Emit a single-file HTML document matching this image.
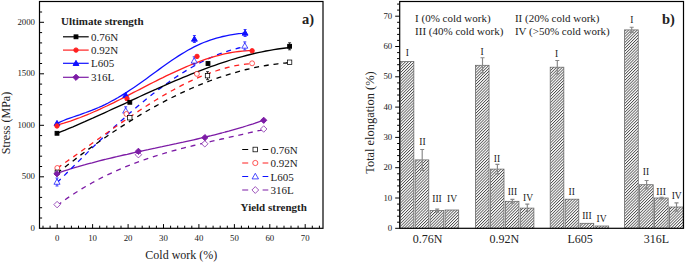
<!DOCTYPE html>
<html><head><meta charset="utf-8"><style>
html,body{margin:0;padding:0;background:#fff;}
svg{display:block;}
text{font-family:"Liberation Serif",serif;fill:#222;}
.tk{font-size:8.8px;}
.ax{font-size:12px;}
.lg{font-size:11px;}
.rn{font-size:9.5px;}
.bd{font-size:11px;font-weight:bold;}
.ab{font-size:14.5px;font-weight:bold;}
</style></head><body>
<svg width="685" height="263" viewBox="0 0 685 263">
<rect x="39.5" y="1.5" width="283.5" height="226.8" fill="none" stroke="#000" stroke-width="1.2"/>
<path d="M43.0,228.3V225.7M50.1,228.3V225.7M57.2,228.3V224.1M64.3,228.3V225.7M71.4,228.3V225.7M78.5,228.3V225.7M85.5,228.3V225.7M92.6,228.3V224.1M99.7,228.3V225.7M106.8,228.3V225.7M113.9,228.3V225.7M121.0,228.3V225.7M128.1,228.3V224.1M135.1,228.3V225.7M142.2,228.3V225.7M149.3,228.3V225.7M156.4,228.3V225.7M163.5,228.3V224.1M170.6,228.3V225.7M177.7,228.3V225.7M184.7,228.3V225.7M191.8,228.3V225.7M198.9,228.3V224.1M206.0,228.3V225.7M213.1,228.3V225.7M220.2,228.3V225.7M227.3,228.3V225.7M234.4,228.3V224.1M241.4,228.3V225.7M248.5,228.3V225.7M255.6,228.3V225.7M262.7,228.3V225.7M269.8,228.3V224.1M276.9,228.3V225.7M284.0,228.3V225.7M291.0,228.3V225.7M298.1,228.3V225.7M305.2,228.3V224.1M312.3,228.3V225.7M319.4,228.3V225.7M39.5,218.0H42.1M39.5,207.7H42.1M39.5,197.4H42.1M39.5,187.1H42.1M39.5,176.8H44.0M39.5,166.5H42.1M39.5,156.2H42.1M39.5,145.9H42.1M39.5,135.6H42.1M39.5,125.3H44.0M39.5,115.0H42.1M39.5,104.7H42.1M39.5,94.4H42.1M39.5,84.1H42.1M39.5,73.8H44.0M39.5,63.5H42.1M39.5,53.2H42.1M39.5,42.9H42.1M39.5,32.6H42.1M39.5,22.3H44.0M39.5,12.0H42.1" stroke="#000" stroke-width="1" fill="none"/>
<text x="57.2" y="240.6" class="tk" text-anchor="middle">0</text>
<text x="92.6" y="240.6" class="tk" text-anchor="middle">10</text>
<text x="128.1" y="240.6" class="tk" text-anchor="middle">20</text>
<text x="163.5" y="240.6" class="tk" text-anchor="middle">30</text>
<text x="198.9" y="240.6" class="tk" text-anchor="middle">40</text>
<text x="234.4" y="240.6" class="tk" text-anchor="middle">50</text>
<text x="269.8" y="240.6" class="tk" text-anchor="middle">60</text>
<text x="305.2" y="240.6" class="tk" text-anchor="middle">70</text>
<text x="35" y="230.9" class="tk" text-anchor="end">0</text>
<text x="35" y="179.4" class="tk" text-anchor="end">500</text>
<text x="35" y="127.9" class="tk" text-anchor="end">1000</text>
<text x="35" y="76.4" class="tk" text-anchor="end">1500</text>
<text x="35" y="24.9" class="tk" text-anchor="end">2000</text>
<text class="ax" x="181.3" y="259" text-anchor="middle">Cold work (%)</text>
<text class="ax" transform="translate(10,123) rotate(-90)" text-anchor="middle">Stress (MPa)</text>
<text class="ab" x="302" y="24">a)</text>
<path d="M57.2,205.5 L60.7,202.9 L64.2,200.4 L67.7,197.9 L71.2,195.6 L74.7,193.3 L78.2,191.1 L81.7,188.9 L85.2,186.8 L88.7,184.8 L92.2,182.8 L95.7,180.9 L99.2,179.0 L102.7,177.2 L106.2,175.5 L109.7,173.8 L113.2,172.2 L116.7,170.6 L120.2,169.1 L123.7,167.6 L127.2,166.1 L130.7,164.8 L134.2,163.4 L137.7,162.1 L141.2,160.8 L144.7,159.6 L148.2,158.4 L151.7,157.2 L155.2,156.1 L158.7,155.0 L162.2,154.0 L165.7,152.9 L169.2,151.9 L172.7,150.9 L176.2,150.0 L179.7,149.0 L183.2,148.1 L186.7,147.2 L190.2,146.4 L193.7,145.5 L197.2,144.7 L200.7,143.8 L204.2,143.0 L207.7,142.2 L211.2,141.4 L214.7,140.6 L218.2,139.8 L221.7,139.0 L225.2,138.3 L228.7,137.5 L232.2,136.7 L235.7,135.9 L239.2,135.1 L242.7,134.3 L246.2,133.5 L249.7,132.7 L253.2,131.9 L256.7,131.1 L260.2,130.3 L263.7,129.4" stroke="#7d1ca6" stroke-width="1.3" fill="none" stroke-linejoin="round" stroke-dasharray="5,4.8"/>
<path d="M57.2,173.2 L60.7,172.1 L64.2,170.9 L67.7,169.8 L71.2,168.7 L74.7,167.7 L78.2,166.7 L81.7,165.6 L85.2,164.7 L88.7,163.7 L92.2,162.8 L95.7,161.8 L99.2,160.9 L102.7,160.0 L106.2,159.2 L109.7,158.3 L113.2,157.5 L116.7,156.7 L120.2,155.8 L123.7,155.0 L127.2,154.3 L130.7,153.5 L134.2,152.7 L137.7,151.9 L141.2,151.2 L144.7,150.4 L148.2,149.7 L151.7,148.9 L155.2,148.2 L158.7,147.4 L162.2,146.7 L165.7,145.9 L169.2,145.2 L172.7,144.4 L176.2,143.7 L179.7,142.9 L183.2,142.2 L186.7,141.4 L190.2,140.6 L193.7,139.8 L197.2,139.0 L200.7,138.2 L204.2,137.4 L207.7,136.5 L211.2,135.7 L214.7,134.8 L218.2,133.9 L221.7,133.0 L225.2,132.0 L228.7,131.1 L232.2,130.1 L235.7,129.1 L239.2,128.1 L242.7,127.1 L246.2,126.0 L249.7,124.9 L253.2,123.8 L256.7,122.6 L260.2,121.4 L263.7,120.2" stroke="#7d1ca6" stroke-width="1.3" fill="none" stroke-linejoin="round"/>
<path d="M57.2,182.5 L60.4,179.3 L63.6,176.2 L66.8,173.0 L69.9,169.8 L73.1,166.7 L76.3,163.5 L79.5,160.4 L82.7,157.2 L85.9,154.1 L89.0,151.0 L92.2,147.9 L95.4,144.8 L98.6,141.8 L101.8,138.7 L105.0,135.7 L108.2,132.7 L111.3,129.8 L114.5,126.8 L117.7,123.9 L120.9,121.0 L124.1,118.2 L127.3,115.3 L130.4,112.5 L133.6,109.8 L136.8,107.1 L140.0,104.4 L143.2,101.7 L146.4,99.1 L149.6,96.6 L152.7,94.0 L155.9,91.6 L159.1,89.1 L162.3,86.8 L165.5,84.4 L168.7,82.2 L171.9,79.9 L175.0,77.8 L178.2,75.6 L181.4,73.6 L184.6,71.6 L187.8,69.6 L191.0,67.8 L194.1,66.0 L197.3,64.2 L200.5,62.5 L203.7,60.9 L206.9,59.4 L210.1,57.9 L213.3,56.5 L216.4,55.1 L219.6,53.9 L222.8,52.7 L226.0,51.6 L229.2,50.6 L232.4,49.6 L235.5,48.8 L238.7,48.0 L241.9,47.3 L245.1,46.7" stroke="#1010ff" stroke-width="1.3" fill="none" stroke-linejoin="round" stroke-dasharray="5,4.8"/>
<path d="M57.2,123.3 L60.4,121.8 L63.6,120.5 L66.8,119.2 L69.9,118.1 L73.1,117.0 L76.3,115.9 L79.5,114.8 L82.7,113.6 L85.9,112.5 L89.0,111.3 L92.2,110.1 L95.4,108.8 L98.6,107.5 L101.8,106.1 L105.0,104.6 L108.2,103.0 L111.3,101.3 L114.5,99.6 L117.7,97.8 L120.9,95.9 L124.1,93.9 L127.3,91.9 L130.4,89.8 L133.6,87.7 L136.8,85.5 L140.0,83.2 L143.2,81.0 L146.4,78.7 L149.6,76.3 L152.7,74.0 L155.9,71.7 L159.1,69.4 L162.3,67.0 L165.5,64.8 L168.7,62.5 L171.9,60.3 L175.0,58.2 L178.2,56.1 L181.4,54.1 L184.6,52.2 L187.8,50.3 L191.0,48.6 L194.1,46.9 L197.3,45.3 L200.5,43.9 L203.7,42.5 L206.9,41.3 L210.1,40.1 L213.3,39.1 L216.4,38.1 L219.6,37.3 L222.8,36.5 L226.0,35.8 L229.2,35.2 L232.4,34.7 L235.5,34.2 L238.7,33.7 L241.9,33.3 L245.1,32.8" stroke="#1010ff" stroke-width="1.3" fill="none" stroke-linejoin="round"/>
<path d="M57.2,168.1 L60.5,165.9 L63.8,163.6 L67.1,161.2 L70.4,158.9 L73.7,156.6 L77.0,154.2 L80.3,151.9 L83.6,149.5 L86.9,147.2 L90.2,144.8 L93.5,142.4 L96.8,140.1 L100.1,137.7 L103.4,135.4 L106.8,133.0 L110.1,130.7 L113.4,128.3 L116.7,126.0 L120.0,123.7 L123.3,121.4 L126.6,119.2 L129.9,116.9 L133.2,114.7 L136.5,112.5 L139.8,110.3 L143.1,108.1 L146.4,106.0 L149.7,103.9 L153.0,101.8 L156.3,99.8 L159.6,97.8 L162.9,95.8 L166.2,93.9 L169.5,92.0 L172.8,90.2 L176.1,88.4 L179.4,86.6 L182.7,84.9 L186.0,83.3 L189.3,81.7 L192.6,80.1 L195.9,78.7 L199.2,77.2 L202.5,75.8 L205.9,74.5 L209.2,73.3 L212.5,72.1 L215.8,71.0 L219.1,69.9 L222.4,68.9 L225.7,68.0 L229.0,67.2 L232.3,66.4 L235.6,65.7 L238.9,65.1 L242.2,64.6 L245.5,64.2 L248.8,63.8 L252.1,63.5" stroke="#ff2020" stroke-width="1.3" fill="none" stroke-linejoin="round" stroke-dasharray="5,4.8"/>
<path d="M57.2,125.0 L60.5,124.1 L63.8,123.2 L67.1,122.1 L70.4,121.1 L73.7,119.9 L77.0,118.7 L80.3,117.5 L83.6,116.2 L86.9,114.8 L90.2,113.5 L93.5,112.0 L96.8,110.6 L100.1,109.1 L103.4,107.5 L106.8,106.0 L110.1,104.4 L113.4,102.8 L116.7,101.1 L120.0,99.5 L123.3,97.8 L126.6,96.1 L129.9,94.4 L133.2,92.7 L136.5,91.0 L139.8,89.3 L143.1,87.6 L146.4,85.9 L149.7,84.2 L153.0,82.5 L156.3,80.9 L159.6,79.2 L162.9,77.6 L166.2,75.9 L169.5,74.4 L172.8,72.8 L176.1,71.3 L179.4,69.8 L182.7,68.3 L186.0,66.9 L189.3,65.5 L192.6,64.1 L195.9,62.8 L199.2,61.6 L202.5,60.4 L205.9,59.2 L209.2,58.1 L212.5,57.1 L215.8,56.2 L219.1,55.3 L222.4,54.4 L225.7,53.7 L229.0,53.0 L232.3,52.4 L235.6,51.9 L238.9,51.5 L242.2,51.1 L245.5,50.8 L248.8,50.7 L252.1,50.6" stroke="#ff2020" stroke-width="1.3" fill="none" stroke-linejoin="round"/>
<path d="M57.2,173.2 L61.1,170.0 L65.1,166.9 L69.0,163.9 L73.0,160.9 L76.9,157.9 L80.8,154.9 L84.8,152.0 L88.7,149.1 L92.7,146.3 L96.6,143.5 L100.5,140.7 L104.5,138.0 L108.4,135.3 L112.3,132.6 L116.3,130.0 L120.2,127.4 L124.2,124.9 L128.1,122.4 L132.0,119.9 L136.0,117.5 L139.9,115.1 L143.9,112.8 L147.8,110.5 L151.7,108.3 L155.7,106.1 L159.6,104.0 L163.6,101.9 L167.5,99.8 L171.4,97.8 L175.4,95.9 L179.3,93.9 L183.2,92.1 L187.2,90.3 L191.1,88.5 L195.1,86.8 L199.0,85.2 L202.9,83.6 L206.9,82.0 L210.8,80.5 L214.8,79.1 L218.7,77.7 L222.6,76.4 L226.6,75.1 L230.5,73.9 L234.5,72.7 L238.4,71.6 L242.3,70.5 L246.3,69.5 L250.2,68.6 L254.1,67.7 L258.1,66.9 L262.0,66.2 L266.0,65.5 L269.9,64.8 L273.8,64.3 L277.8,63.8 L281.7,63.3 L285.7,63.0 L289.6,62.6" stroke="#000" stroke-width="1.3" fill="none" stroke-linejoin="round" stroke-dasharray="5,4.8"/>
<path d="M57.2,133.3 L61.1,131.7 L65.1,130.1 L69.0,128.4 L73.0,126.8 L76.9,125.1 L80.8,123.4 L84.8,121.7 L88.7,119.9 L92.7,118.2 L96.6,116.4 L100.5,114.6 L104.5,112.8 L108.4,111.0 L112.3,109.2 L116.3,107.4 L120.2,105.6 L124.2,103.8 L128.1,102.0 L132.0,100.1 L136.0,98.3 L139.9,96.5 L143.9,94.7 L147.8,92.9 L151.7,91.1 L155.7,89.4 L159.6,87.6 L163.6,85.9 L167.5,84.1 L171.4,82.4 L175.4,80.7 L179.3,79.1 L183.2,77.4 L187.2,75.8 L191.1,74.2 L195.1,72.6 L199.0,71.1 L202.9,69.6 L206.9,68.1 L210.8,66.7 L214.8,65.3 L218.7,63.9 L222.6,62.6 L226.6,61.3 L230.5,60.0 L234.5,58.8 L238.4,57.7 L242.3,56.6 L246.3,55.5 L250.2,54.5 L254.1,53.5 L258.1,52.6 L262.0,51.8 L266.0,51.0 L269.9,50.3 L273.8,49.6 L277.8,49.0 L281.7,48.5 L285.7,48.0 L289.6,47.6" stroke="#000" stroke-width="1.3" fill="none" stroke-linejoin="round"/>
<path d="M57.10,201.37L60.33,204.60L57.10,207.83L53.87,204.60Z" fill="#fff" stroke="#7d1ca6" stroke-width="0.75"/>
<path d="M138.40,151.47L141.63,154.70L138.40,157.93L135.17,154.70Z" fill="#fff" stroke="#7d1ca6" stroke-width="0.75"/>
<path d="M204.80,140.57L208.03,143.80L204.80,147.03L201.57,143.80Z" fill="#fff" stroke="#7d1ca6" stroke-width="0.75"/>
<path d="M263.70,125.77L266.93,129.00L263.70,132.23L260.47,129.00Z" fill="#fff" stroke="#7d1ca6" stroke-width="0.75"/>
<path d="M55.5,178.0H58.5M57.0,178.0V186.0M55.5,186.0H58.5" stroke="#1010ff" stroke-width="0.8"/>
<path d="M57.00,178.96L60.04,184.28L53.96,184.28Z" fill="#fff" stroke="#1010ff" stroke-width="0.75"/>
<path d="M124.2,106.8H127.2M125.7,106.8V114.8M124.2,114.8H127.2" stroke="#1010ff" stroke-width="0.8"/>
<path d="M125.70,107.76L128.74,113.08L122.66,113.08Z" fill="#fff" stroke="#1010ff" stroke-width="0.75"/>
<path d="M192.7,56.8H195.7M194.2,56.8V64.8M192.7,64.8H195.7" stroke="#1010ff" stroke-width="0.8"/>
<path d="M194.20,57.76L197.24,63.08L191.16,63.08Z" fill="#fff" stroke="#1010ff" stroke-width="0.75"/>
<path d="M243.3,41.9H246.3M244.8,41.9V49.9M243.3,49.9H246.3" stroke="#1010ff" stroke-width="0.8"/>
<path d="M244.80,42.86L247.84,48.18L241.76,48.18Z" fill="#fff" stroke="#1010ff" stroke-width="0.75"/>
<circle cx="57.30" cy="168.00" r="2.47" fill="#fff" stroke="#ff2020" stroke-width="0.75"/>
<circle cx="126.40" cy="114.00" r="2.47" fill="#fff" stroke="#ff2020" stroke-width="0.75"/>
<circle cx="196.90" cy="73.90" r="2.47" fill="#fff" stroke="#ff2020" stroke-width="0.75"/>
<circle cx="252.10" cy="63.30" r="2.47" fill="#fff" stroke="#ff2020" stroke-width="0.75"/>
<rect x="55.11" y="170.12" width="4.37" height="4.37" fill="#fff" stroke="#000" stroke-width="0.75"/>
<rect x="127.62" y="115.61" width="4.37" height="4.37" fill="#fff" stroke="#000" stroke-width="0.75"/>
<path d="M206.0,71.7H209.0M207.5,71.7V79.7M206.0,79.7H209.0" stroke="#000" stroke-width="0.8"/>
<rect x="205.31" y="73.52" width="4.37" height="4.37" fill="#fff" stroke="#000" stroke-width="0.75"/>
<rect x="287.42" y="60.02" width="4.37" height="4.37" fill="#fff" stroke="#000" stroke-width="0.75"/>
<path d="M57.00,170.70L60.10,173.80L57.00,176.90L53.90,173.80Z" fill="#7d1ca6" stroke="#7d1ca6" stroke-width="1"/>
<path d="M138.40,148.20L141.50,151.30L138.40,154.40L135.30,151.30Z" fill="#7d1ca6" stroke="#7d1ca6" stroke-width="1"/>
<path d="M204.90,134.50L208.00,137.60L204.90,140.70L201.80,137.60Z" fill="#7d1ca6" stroke="#7d1ca6" stroke-width="1"/>
<path d="M263.70,117.20L266.80,120.30L263.70,123.40L260.60,120.30Z" fill="#7d1ca6" stroke="#7d1ca6" stroke-width="1"/>
<path d="M57.00,120.40L59.90,125.47L54.10,125.47Z" fill="#1010ff" stroke="#1010ff" stroke-width="1"/>
<path d="M125.70,92.30L128.60,97.38L122.80,97.38Z" fill="#1010ff" stroke="#1010ff" stroke-width="1"/>
<path d="M192.9,35.5H195.9M194.4,35.5V42.5M192.9,42.5H195.9" stroke="#1010ff" stroke-width="0.8"/>
<path d="M194.40,36.10L197.30,41.17L191.50,41.17Z" fill="#1010ff" stroke="#1010ff" stroke-width="1"/>
<path d="M243.6,29.5H246.6M245.1,29.5V36.5M243.6,36.5H246.6" stroke="#1010ff" stroke-width="0.8"/>
<path d="M245.10,30.10L248.00,35.17L242.20,35.17Z" fill="#1010ff" stroke="#1010ff" stroke-width="1"/>
<circle cx="57.00" cy="126.00" r="2.20" fill="#ff2020" stroke="#ff2020" stroke-width="1"/>
<circle cx="127.00" cy="98.70" r="2.20" fill="#ff2020" stroke="#ff2020" stroke-width="1"/>
<circle cx="197.00" cy="56.40" r="2.20" fill="#ff2020" stroke="#ff2020" stroke-width="1"/>
<circle cx="252.10" cy="50.80" r="2.20" fill="#ff2020" stroke="#ff2020" stroke-width="1"/>
<rect x="55.10" y="131.40" width="3.80" height="3.80" fill="#000" stroke="#000" stroke-width="1"/>
<rect x="127.90" y="100.40" width="3.80" height="3.80" fill="#000" stroke="#000" stroke-width="1"/>
<rect x="206.10" y="61.60" width="3.80" height="3.80" fill="#000" stroke="#000" stroke-width="1"/>
<path d="M288.1,42.8H291.1M289.6,42.8V49.8M288.1,49.8H291.1" stroke="#000" stroke-width="0.8"/>
<rect x="287.70" y="44.40" width="3.80" height="3.80" fill="#000" stroke="#000" stroke-width="1"/>
<text class="bd" x="61" y="25">Ultimate strength</text>
<path d="M63,36.8H88.7" stroke="#000" stroke-width="1.2"/>
<rect x="74.10" y="34.90" width="3.80" height="3.80" fill="#000" stroke="#000" stroke-width="1"/>
<text class="lg" x="91" y="40.8">0.76N</text>
<path d="M63,50.1H88.7" stroke="#ff2020" stroke-width="1.2"/>
<circle cx="76.00" cy="50.10" r="2.20" fill="#ff2020" stroke="#ff2020" stroke-width="1"/>
<text class="lg" x="91" y="54.1">0.92N</text>
<path d="M63,63.3H88.7" stroke="#1010ff" stroke-width="1.2"/>
<path d="M76.00,60.40L78.90,65.47L73.10,65.47Z" fill="#1010ff" stroke="#1010ff" stroke-width="1"/>
<text class="lg" x="91" y="67.3">L605</text>
<path d="M63,77.3H88.7" stroke="#7d1ca6" stroke-width="1.2"/>
<path d="M76.00,74.20L79.10,77.30L76.00,80.40L72.90,77.30Z" fill="#7d1ca6" stroke="#7d1ca6" stroke-width="1"/>
<text class="lg" x="91" y="81.3">316L</text>
<path d="M242.2,149.5H248.2M262.6,149.5H268.3" stroke="#000" stroke-width="1.1"/>
<rect x="253.00" y="147.20" width="4.60" height="4.60" fill="#fff" stroke="#000" stroke-width="0.75"/>
<text class="lg" x="270.5" y="153.5">0.76N</text>
<path d="M242.2,163.0H248.2M262.6,163.0H268.3" stroke="#ff2020" stroke-width="1.1"/>
<circle cx="255.30" cy="163.00" r="2.60" fill="#fff" stroke="#ff2020" stroke-width="0.75"/>
<text class="lg" x="270.5" y="167.0">0.92N</text>
<path d="M242.2,176.5H248.2M262.6,176.5H268.3" stroke="#1010ff" stroke-width="1.1"/>
<path d="M255.30,173.30L258.50,178.90L252.10,178.90Z" fill="#fff" stroke="#1010ff" stroke-width="0.75"/>
<text class="lg" x="270.5" y="180.5">L605</text>
<path d="M242.2,190.0H248.2M262.6,190.0H268.3" stroke="#7d1ca6" stroke-width="1.1"/>
<path d="M255.30,186.60L258.70,190.00L255.30,193.40L251.90,190.00Z" fill="#fff" stroke="#7d1ca6" stroke-width="0.75"/>
<text class="lg" x="270.5" y="194.0">316L</text>
<text class="bd" x="240.6" y="211">Yield strength</text>
<defs><pattern id="h" patternUnits="userSpaceOnUse" width="2.05" height="4" patternTransform="rotate(45)"><rect width="2.05" height="4" fill="#fff"/><rect width="0.8" height="4" fill="#4a4a4a"/></pattern></defs>
<rect x="400.20" y="61.5" width="13.65" height="166.8" fill="url(#h)" stroke="#666" stroke-width="0.75"/>
<rect x="415.15" y="159.9" width="13.65" height="68.4" fill="url(#h)" stroke="#666" stroke-width="0.75"/>
<rect x="430.10" y="210.6" width="13.65" height="17.7" fill="url(#h)" stroke="#666" stroke-width="0.75"/>
<rect x="445.05" y="210.0" width="13.65" height="18.3" fill="url(#h)" stroke="#666" stroke-width="0.75"/>
<rect x="475.40" y="65.3" width="13.65" height="163.0" fill="url(#h)" stroke="#666" stroke-width="0.75"/>
<rect x="490.35" y="169.1" width="13.65" height="59.2" fill="url(#h)" stroke="#666" stroke-width="0.75"/>
<rect x="505.30" y="201.3" width="13.65" height="27.0" fill="url(#h)" stroke="#666" stroke-width="0.75"/>
<rect x="520.25" y="208.1" width="13.65" height="20.2" fill="url(#h)" stroke="#666" stroke-width="0.75"/>
<rect x="550.20" y="67.2" width="13.65" height="161.1" fill="url(#h)" stroke="#666" stroke-width="0.75"/>
<rect x="565.15" y="199.2" width="13.65" height="29.1" fill="url(#h)" stroke="#666" stroke-width="0.75"/>
<rect x="580.10" y="223.3" width="13.65" height="5.0" fill="url(#h)" stroke="#666" stroke-width="0.75"/>
<rect x="595.05" y="226.0" width="13.65" height="2.3" fill="url(#h)" stroke="#666" stroke-width="0.75"/>
<rect x="624.60" y="29.9" width="13.65" height="198.4" fill="url(#h)" stroke="#666" stroke-width="0.75"/>
<rect x="639.55" y="184.7" width="13.65" height="43.6" fill="url(#h)" stroke="#666" stroke-width="0.75"/>
<rect x="654.50" y="198.0" width="13.65" height="30.3" fill="url(#h)" stroke="#666" stroke-width="0.75"/>
<rect x="669.45" y="207.0" width="13.65" height="21.3" fill="url(#h)" stroke="#666" stroke-width="0.75"/>
<path d="M420.2,149.5H424.2M422.2,149.5V170.3M420.2,170.3H424.2" stroke="#888" stroke-width="1.15"/>
<path d="M435.2,209.1H439.2M437.2,209.1V212.1M435.2,212.1H439.2" stroke="#888" stroke-width="1.15"/>
<path d="M480.5,57.7H484.5M482.5,57.7V72.9M480.5,72.9H484.5" stroke="#888" stroke-width="1.15"/>
<path d="M495.4,164.3H499.4M497.4,164.3V173.9M495.4,173.9H499.4" stroke="#888" stroke-width="1.15"/>
<path d="M510.4,199.4H514.4M512.4,199.4V203.2M510.4,203.2H514.4" stroke="#888" stroke-width="1.15"/>
<path d="M525.3,204.1H529.3M527.3,204.1V211.4M525.3,211.4H529.3" stroke="#888" stroke-width="1.15"/>
<path d="M555.3,60.5H559.3M557.3,60.5V73.9M555.3,73.9H559.3" stroke="#888" stroke-width="1.15"/>
<path d="M629.7,27.2H633.7M631.7,27.2V32.5M629.7,32.5H633.7" stroke="#888" stroke-width="1.15"/>
<path d="M644.6,180.5H648.6M646.6,180.5V188.9M644.6,188.9H648.6" stroke="#888" stroke-width="1.15"/>
<path d="M659.6,197.2H663.6M661.6,197.2V198.8M659.6,198.8H663.6" stroke="#888" stroke-width="1.15"/>
<path d="M674.5,202.9H678.5M676.5,202.9V211.1M674.5,211.1H678.5" stroke="#888" stroke-width="1.15"/>
<rect x="399.7" y="1.5" width="283.8" height="226.8" fill="none" stroke="#000" stroke-width="1.2"/>
<path d="M399.7,228.3H395.2M399.7,222.2H397.1M399.7,216.2H397.1M399.7,210.1H397.1M399.7,204.1H397.1M399.7,198.0H395.2M399.7,191.9H397.1M399.7,185.9H397.1M399.7,179.8H397.1M399.7,173.8H397.1M399.7,167.7H395.2M399.7,161.6H397.1M399.7,155.6H397.1M399.7,149.5H397.1M399.7,143.5H397.1M399.7,137.4H395.2M399.7,131.3H397.1M399.7,125.3H397.1M399.7,119.2H397.1M399.7,113.2H397.1M399.7,107.1H395.2M399.7,101.0H397.1M399.7,95.0H397.1M399.7,88.9H397.1M399.7,82.9H397.1M399.7,76.8H395.2M399.7,70.7H397.1M399.7,64.7H397.1M399.7,58.6H397.1M399.7,52.6H397.1M399.7,46.5H395.2M399.7,40.4H397.1M399.7,34.4H397.1M399.7,28.3H397.1M399.7,22.3H397.1M399.7,16.2H395.2M399.7,10.1H397.1M399.7,4.1H397.1" stroke="#000" stroke-width="1" fill="none"/>
<text x="392.2" y="230.9" class="tk" text-anchor="end">0</text>
<text x="392.2" y="200.6" class="tk" text-anchor="end">10</text>
<text x="392.2" y="170.3" class="tk" text-anchor="end">20</text>
<text x="392.2" y="140.0" class="tk" text-anchor="end">30</text>
<text x="392.2" y="109.7" class="tk" text-anchor="end">40</text>
<text x="392.2" y="79.4" class="tk" text-anchor="end">50</text>
<text x="392.2" y="49.1" class="tk" text-anchor="end">60</text>
<text x="392.2" y="18.8" class="tk" text-anchor="end">70</text>
<text class="ax" x="427.6" y="242.6" text-anchor="middle">0.76N</text>
<text class="ax" x="504.4" y="242.6" text-anchor="middle">0.92N</text>
<text class="ax" x="580.1" y="242.6" text-anchor="middle">L605</text>
<text class="ax" x="656.3" y="242.6" text-anchor="middle">316L</text>
<text class="ax" transform="translate(374.3,122.6) rotate(-90)" text-anchor="middle" style="font-size:12.4px">Total elongation (%)</text>
<text class="ab" x="662" y="24">b)</text>
<text class="lg" x="415.1" y="21.5">I (0% cold work)</text>
<text class="lg" x="415.1" y="35.1">III (40% cold work)</text>
<text class="lg" x="514.9" y="21.5">II (20% cold work)</text>
<text class="lg" x="514.9" y="35.1">IV (&gt;50% cold work)</text>
<text class="rn" x="407.4" y="56.2" text-anchor="middle">I</text>
<text class="rn" x="422.4" y="144.7" text-anchor="middle">II</text>
<text class="rn" x="437.0" y="201.9" text-anchor="middle">III</text>
<text class="rn" x="452.0" y="201.9" text-anchor="middle">IV</text>
<text class="rn" x="482.1" y="54.8" text-anchor="middle">I</text>
<text class="rn" x="497.0" y="162.4" text-anchor="middle">II</text>
<text class="rn" x="512.4" y="195.2" text-anchor="middle">III</text>
<text class="rn" x="528.0" y="201.3" text-anchor="middle">IV</text>
<text class="rn" x="556.7" y="56.7" text-anchor="middle">I</text>
<text class="rn" x="571.7" y="194.7" text-anchor="middle">II</text>
<text class="rn" x="586.9" y="218.6" text-anchor="middle">III</text>
<text class="rn" x="601.6" y="221.8" text-anchor="middle">IV</text>
<text class="rn" x="631.8" y="22.6" text-anchor="middle">I</text>
<text class="rn" x="645.9" y="175.2" text-anchor="middle">II</text>
<text class="rn" x="661.1" y="194.6" text-anchor="middle">III</text>
<text class="rn" x="676.7" y="199.4" text-anchor="middle">IV</text>
</svg>
</body></html>
